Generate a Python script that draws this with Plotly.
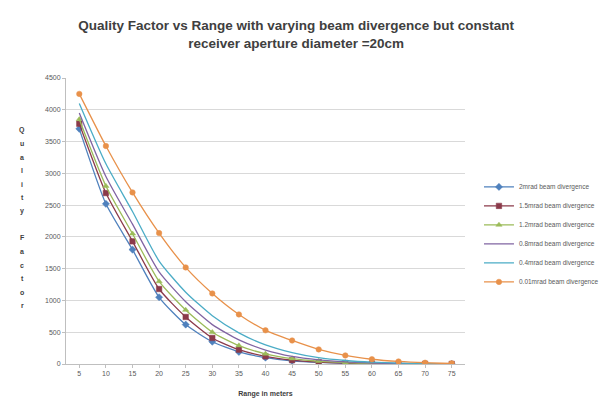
import plotly.graph_objects as go

ranges = [5, 10, 15, 20, 25, 30, 35, 40, 45, 50, 55, 60, 65, 70, 75]
range_labels = [str(r) for r in ranges]

series_names = [
    "2mrad beam divergence",
    "1.5mrad beam divergence",
    "1.2mrad beam divergence",
    "0.8mrad beam divergence",
    "0.4mrad beam divergence",
    "0.01mrad beam divergence",
]
q_2mrad = [3700, 2520, 1800, 1050, 620, 350, 190, 100, 50, 25, 12, 6, 3, 1, 1]
q_1p5mrad = [3780, 2690, 1930, 1180, 740, 410, 225, 120, 60, 30, 15, 7, 4, 2, 1]
q_1p2mrad = [3850, 2800, 2050, 1300, 850, 500, 290, 160, 85, 45, 22, 11, 5, 3, 1]
q_0p8mrad = [3950, 2950, 2200, 1450, 980, 620, 380, 220, 120, 65, 33, 16, 8, 4, 2]
q_0p4mrad = [4100, 3150, 2400, 1620, 1130, 760, 490, 300, 180, 100, 55, 28, 14, 7, 3]
q_0p01mrad = [4250, 3430, 2700, 2060, 1520, 1110, 780, 530, 370, 230, 135, 75, 40, 20, 10]
all_series = [q_2mrad, q_1p5mrad, q_1p2mrad, q_0p8mrad, q_0p4mrad, q_0p01mrad]

colors = ["#4F81BD", "#8B3A4A", "#9BBB59", "#8064A2", "#4BACC6", "#E8914A"]
symbols = ["diamond", "square", "triangle-up", None, None, "circle"]

fig = go.Figure()
for name, vals, col, sym in zip(series_names, all_series, colors, symbols):
    mode = "lines+markers" if sym else "lines"
    fig.add_trace(go.Scatter(
        x=range_labels, y=vals, name=name, mode=mode,
        line=dict(color=col, width=1.3, shape="spline", smoothing=0.6),
        marker=dict(symbol=sym or "circle", size=5.5, color=col,
                    line=dict(width=0.5, color=col)),
    ))

fig.update_layout(
    width=608, height=405,
    margin=dict(l=58, r=141, t=70, b=49),
    paper_bgcolor="white", plot_bgcolor="white",
    font=dict(family="Liberation Sans, Arial, sans-serif", color="#595959", size=7),
    title=dict(
        text="<b>Quality Factor vs Range with varying beam divergence but constant<br>receiver aperture diameter =20cm</b>",
        x=0.474, xanchor="center", y=0.945, yanchor="top",
        font=dict(size=13.5, color="#404040", family="Liberation Sans, Arial, sans-serif"),
    ),
    legend=dict(
        x=1.035, y=0.67, xanchor="left", yanchor="top",
        font=dict(size=6.5, color="#595959"),
        bgcolor="rgba(0,0,0,0)", itemwidth=30,
    ),
    showlegend=True,
)
fig.update_xaxes(
    type="category", range=[-0.5, 14.5],
    showline=True, linecolor="#BFBFBF", linewidth=1,
    ticks="outside", ticklen=3, tickcolor="#BFBFBF",
    showgrid=False, tickfont=dict(size=7, color="#595959"),
    title=dict(text="<b>Range in meters</b>", font=dict(size=7, color="#404040"), standoff=14),
)
fig.update_yaxes(
    range=[0, 4500], dtick=500,
    showline=True, linecolor="#BFBFBF", linewidth=1,
    ticks="outside", ticklen=3, tickcolor="#BFBFBF",
    showgrid=True, gridcolor="#D9D9D9", gridwidth=1,
    tickfont=dict(size=7, color="#595959"), zeroline=False,
)

ytitle = "Quality Factor"
top_px, step_px = 122, 13.5
for i, ch in enumerate(ytitle):
    if ch == " ":
        continue
    ypx = top_px + i * step_px
    fig.add_annotation(
        text="<b>" + ch + "</b>", xref="paper", yref="paper",
        x=(13 - 58) / 409, y=(356 - ypx) / 286,
        showarrow=False, font=dict(size=7, color="#404040"),
        xanchor="center", yanchor="middle",
    )

fig.write_html("out.html")
